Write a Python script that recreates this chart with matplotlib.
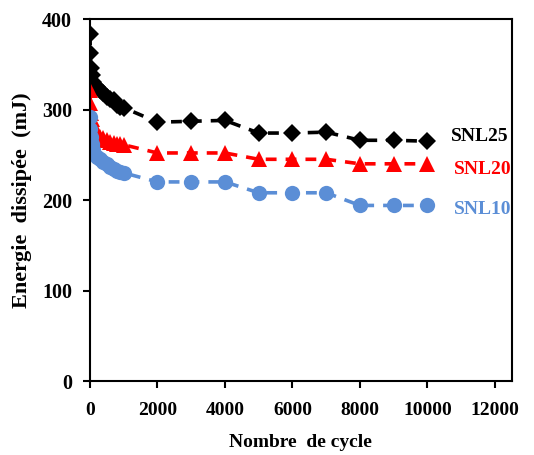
import matplotlib.pyplot as plt

plt.rcParams["font.family"] = ["Liberation Serif", "DejaVu Serif"]
plt.rcParams["font.weight"] = "bold"

# cycles (early dense part then every 1000)
cycles = [1, 10, 20, 50, 100, 200, 300, 400, 500, 600, 700, 800, 900, 1000,
          2000, 3000, 4000, 5000, 6000, 7000, 8000, 9000, 10000]

snl25 = [383, 362, 346, 338, 330, 325, 322, 318, 314, 312, 310, 305, 303, 302,
         286, 287, 288, 274, 274, 275, 266, 266, 265]
snl20 = [322, 307, 296, 290, 280, 275, 270, 268, 266, 264, 263, 262, 262, 261,
         252, 252, 252, 245, 245, 245, 240, 240, 240]
snl10 = [292, 278, 270, 262, 255, 248, 245, 242, 240, 236, 234, 232, 231, 230,
         220, 220, 220, 208, 208, 208, 194, 194, 194]

series_names = ["SNL25", "SNL20", "SNL10"]
colors = ["black", "#FF0000", "#5B8ED6"]
markers = ["D", "^", "o"]
marker_sizes = [9.5, 11, 11]

fig = plt.figure(figsize=(5.34, 4.55), dpi=100)
ax = fig.add_axes([0.1685, 0.1626, 0.79, 0.7956])

for vals, c, m, ms in zip([snl25, snl20, snl10], colors, markers, marker_sizes):
    ax.plot(cycles, vals, linestyle=(0, (3, 2.5)), linewidth=2.6, color=c,
            marker=m, markersize=ms, markeredgewidth=0)

label_x = [10700, 10780, 10780]
label_y = [270, 234, 190]
for name, c, xv, yv in zip(series_names, colors, label_x, label_y):
    ax.text(xv, yv, name, color=c, fontsize=14, fontweight="bold",
            va="center", ha="left")

ax.set_xlim(0, 12500)
ax.set_ylim(0, 400)
ax.set_xticks(range(0, 12001, 2000))
ax.set_yticks(range(0, 401, 100))
ax.tick_params(direction="out", length=5, width=1.5)
ax.tick_params(axis="x", labelsize=14, pad=10)
ax.tick_params(axis="y", labelsize=14.5, pad=8)
for lab in ax.get_xticklabels() + ax.get_yticklabels():
    lab.set_fontweight("bold")
for s in ax.spines.values():
    s.set_linewidth(1.5)

ax.set_xlabel("Nombre  de cycle", fontsize=14, fontweight="bold", labelpad=11)
ax.set_ylabel("Energie  dissipée  (mJ)", fontsize=16, fontweight="bold",
              labelpad=7)

fig.savefig("out.png", dpi=100)
